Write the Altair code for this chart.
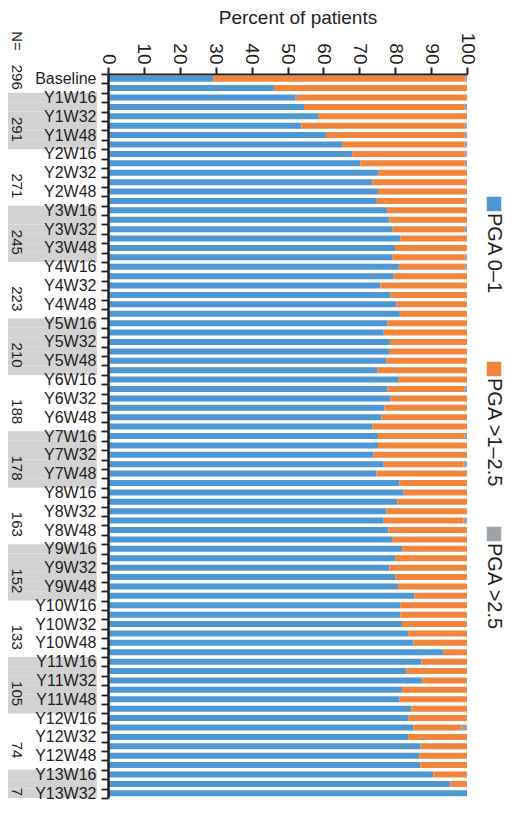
import json
import altair as alt
import pandas as pd

# ---------------- data ----------------
categories = [
    "Baseline", "W8",
    "Y1W16", "Y1W24", "Y1W32", "Y1W40", "Y1W48", "Y1W56",
    "Y2W16", "Y2W24", "Y2W32", "Y2W40", "Y2W48", "Y2W56",
    "Y3W16", "Y3W24", "Y3W32", "Y3W40", "Y3W48", "Y3W56",
    "Y4W16", "Y4W24", "Y4W32", "Y4W40", "Y4W48", "Y4W56",
    "Y5W16", "Y5W24", "Y5W32", "Y5W40", "Y5W48", "Y5W56",
    "Y6W16", "Y6W24", "Y6W32", "Y6W40", "Y6W48", "Y6W56",
    "Y7W16", "Y7W24", "Y7W32", "Y7W40", "Y7W48", "Y7W56",
    "Y8W16", "Y8W24", "Y8W32", "Y8W40", "Y8W48", "Y8W56",
    "Y9W16", "Y9W24", "Y9W32", "Y9W40", "Y9W48", "Y9W56",
    "Y10W16", "Y10W24", "Y10W32", "Y10W40", "Y10W48", "Y10W56",
    "Y11W16", "Y11W24", "Y11W32", "Y11W40", "Y11W48", "Y11W56",
    "Y12W16", "Y12W24", "Y12W32", "Y12W40", "Y12W48", "Y12W56",
    "Y13W16", "Y13W24", "Y13W32",
]

tick_labels = [
    "Baseline",
    "Y1W16", "Y1W32", "Y1W48", "Y2W16", "Y2W32", "Y2W48",
    "Y3W16", "Y3W32", "Y3W48", "Y4W16", "Y4W32", "Y4W48",
    "Y5W16", "Y5W32", "Y5W48", "Y6W16", "Y6W32", "Y6W48",
    "Y7W16", "Y7W32", "Y7W48", "Y8W16", "Y8W32", "Y8W48",
    "Y9W16", "Y9W32", "Y9W48", "Y10W16", "Y10W32", "Y10W48",
    "Y11W16", "Y11W32", "Y11W48", "Y12W16", "Y12W32", "Y12W48",
    "Y13W16", "Y13W32",
]

pga_0_1 = [
    29.4, 46.2, 52.3, 54.6, 58.5, 53.9, 60.7, 65.2, 68.0, 70.3,
    75.2, 73.6, 75.2, 74.9, 77.7, 78.4, 79.3, 81.4, 80.0, 79.3,
    81.0, 79.6, 75.9, 78.7, 80.3, 81.3, 77.9, 76.8, 78.5, 78.5,
    77.5, 75.1, 80.8, 77.9, 78.7, 77.0, 76.2, 73.6, 75.2, 75.2,
    74.0, 76.8, 74.8, 81.2, 82.4, 80.6, 77.5, 76.8, 78.1, 79.1,
    81.9, 80.0, 78.4, 80.0, 80.8, 85.3, 81.4, 81.4, 81.9, 83.6,
    85.1, 93.3, 87.3, 83.1, 87.6, 81.9, 81.2, 84.5, 83.6, 85.1,
    83.6, 87.0, 86.7, 87.0, 90.6, 95.4, 100.0,
]

pga_1_25 = [
    70.2, 53.8, 47.7, 44.8, 41.5, 45.5, 38.7, 34.2, 31.4, 29.1,
    24.8, 26.4, 24.8, 24.6, 22.3, 21.6, 20.1, 18.6, 20.0, 20.1,
    18.4, 20.4, 24.1, 21.3, 19.7, 18.7, 22.1, 23.2, 21.5, 21.5,
    22.5, 24.9, 19.2, 21.3, 21.3, 23.0, 23.8, 26.4, 24.2, 24.8,
    26.0, 22.2, 25.2, 18.8, 17.6, 19.4, 22.5, 22.2, 21.9, 20.9,
    18.1, 20.0, 21.6, 20.0, 19.2, 14.7, 18.6, 18.6, 18.1, 16.4,
    14.9, 6.7, 12.7, 16.9, 12.4, 18.1, 18.8, 15.5, 16.4, 13.4,
    16.4, 13.0, 13.3, 13.0, 9.4, 4.6, 0.0,
]

pga_gt_25 = [
    0.4, 0.0, 0.0, 0.6, 0.0, 0.6, 0.6, 0.6, 0.6, 0.6,
    0.0, 0.0, 0.0, 0.5, 0.0, 0.0, 0.6, 0.0, 0.0, 0.6,
    0.6, 0.0, 0.0, 0.0, 0.0, 0.0, 0.0, 0.0, 0.0, 0.0,
    0.0, 0.0, 0.0, 0.8, 0.0, 0.0, 0.0, 0.0, 0.6, 0.0,
    0.0, 1.0, 0.0, 0.0, 0.0, 0.0, 0.0, 1.0, 0.0, 0.0,
    0.0, 0.0, 0.0, 0.0, 0.0, 0.0, 0.0, 0.0, 0.0, 0.0,
    0.0, 0.0, 0.0, 0.0, 0.0, 0.0, 0.0, 0.0, 0.0, 1.5,
    0.0, 0.0, 0.0, 0.0, 0.0, 0.0, 0.0,
]

series_names = ["PGA 0\u20131", "PGA >1\u20132.5", "PGA >2.5"]
series_colors = ["#4e97d3", "#f1853b", "#9ea3a8"]

group_keys = ["Baseline", "Y1", "Y2", "Y3", "Y4", "Y5", "Y6", "Y7",
              "Y8", "Y9", "Y10", "Y11", "Y12", "Y13"]
group_n = ["296", "291", "271", "245", "223", "210", "188", "178",
           "163", "152", "133", "105", "74", "7"]

# ---------------- tables ----------------
def group_of(cat):
    if cat in ("Baseline", "W8"):
        return "Baseline"
    return cat.split("W")[0]

rows = []
for i, cat in enumerate(categories):
    for k, vals in enumerate([pga_0_1, pga_1_25, pga_gt_25]):
        rows.append({"cat": cat, "series": series_names[k], "order": k, "pct": vals[i]})
bars_df = pd.DataFrame(rows)

shade_df = pd.DataFrame({"cat": [c for c in categories
                                 if group_keys.index(group_of(c)) % 2 == 1]})

full_rows, edge_rows = [], []
for g, n in zip(group_keys, group_n):
    members = [c for c in categories if group_of(c) == g]
    if len(members) >= 4:
        full_rows.append({"cat": members[3], "n": n})
    else:
        edge_rows.append({"cat": members[0] if g == "Baseline" else members[-1], "n": n})
n_df = pd.DataFrame(full_rows)
edge_df = pd.DataFrame(edge_rows)

INK = "#231f20"
FONT = "Liberation Sans"

y_scale = alt.Scale(type="band", domain=categories, paddingInner=0, paddingOuter=0)
label_expr = ("indexof(" + json.dumps(tick_labels) +
              ", datum.value) >= 0 ? datum.value : ''")
y_axis = alt.Axis(title=None, labelExpr=label_expr, tickBand="extent",
                  labelFontSize=16, labelColor=INK, labelPadding=5,
                  labelOverlap=False, labelAlign="right",
                  labelBaseline="middle", tickSize=7, tickWidth=1.8,
                  tickColor=INK, domainColor=INK, domainWidth=2.5, grid=False,
                  zindex=1)


def y_enc(**kw):
    return alt.Y("cat:N", scale=y_scale, sort=categories, axis=y_axis, **kw)


color_scale = alt.Scale(domain=series_names, range=series_colors)

# ---------------- layers ----------------
bars = alt.Chart(bars_df).mark_bar(size=6).encode(
    y=y_enc(),
    x=alt.X("pct:Q", stack="zero",
            scale=alt.Scale(domain=[0, 100], nice=False, zero=True),
            axis=alt.Axis(orient="top", values=list(range(0, 101, 10)),
                          title="Percent of patients", titleFontSize=19,
                          titleFontWeight="normal", titleColor=INK,
                          titleX=189.5, titlePadding=5,
                          labelAngle=90, labelAlign="right", labelBaseline="middle",
                          labelFontSize=19, labelColor=INK, labelPadding=3,
                          labelFlush=False, labelOverlap=False,
                          tickSize=7, tickWidth=2, tickColor=INK,
                          domainColor=INK, domainWidth=2, grid=False, zindex=1)),
    color=alt.Color("series:N", scale=color_scale, legend=None),
    order=alt.Order("order:Q", sort="ascending"),
)

shade = alt.Chart(shade_df).mark_rect(color="#d2d2d2").encode(
    y=y_enc(),
    x=alt.value(-106),
    x2=alt.value(-11),
)

ntext = alt.Chart(n_df).mark_text(angle=90, align="center", baseline="middle",
                                  fontSize=15, color=INK).encode(
    y=y_enc(bandPosition=0.9),
    x=alt.value(-91),
    text="n:N",
)

edgetext = alt.Chart(edge_df).mark_text(angle=90, align="center", baseline="middle",
                                        fontSize=15, color=INK).encode(
    y=y_enc(bandPosition=0.35),
    x=alt.value(-91),
    text="n:N",
)

neq = alt.Chart(pd.DataFrame({"t": ["N="]})).mark_text(
    angle=90, align="center", baseline="middle", fontSize=15, color=INK
).encode(x=alt.value(-91), y=alt.value(-33), text="t:N")

legend_layers = []
for k, name in enumerate(series_names):
    ldf = pd.DataFrame({"series": [name]})
    ly = 130 + 165 * k
    legend_layers.append(
        alt.Chart(ldf).mark_square(size=210, opacity=1).encode(
            x=alt.value(386), y=alt.value(ly),
            color=alt.Color("series:N", scale=color_scale, legend=None),
        )
    )
    legend_layers.append(
        alt.Chart(ldf).mark_text(angle=90, align="left", baseline="middle",
                                 fontSize=20, color=INK).encode(
            x=alt.value(386), y=alt.value(ly + 9), text="series:N",
        )
    )

chart = alt.layer(bars, shade, ntext, edgetext, neq, *legend_layers).properties(
    width=359, height=724,
    padding={"left": 100, "top": 66, "right": 39, "bottom": 5},
    autosize=alt.AutoSizeParams(type="none"),
).configure(font=FONT).configure_view(stroke=None)

chart.save("out.html", embed_options={"renderer": "svg", "actions": False})
